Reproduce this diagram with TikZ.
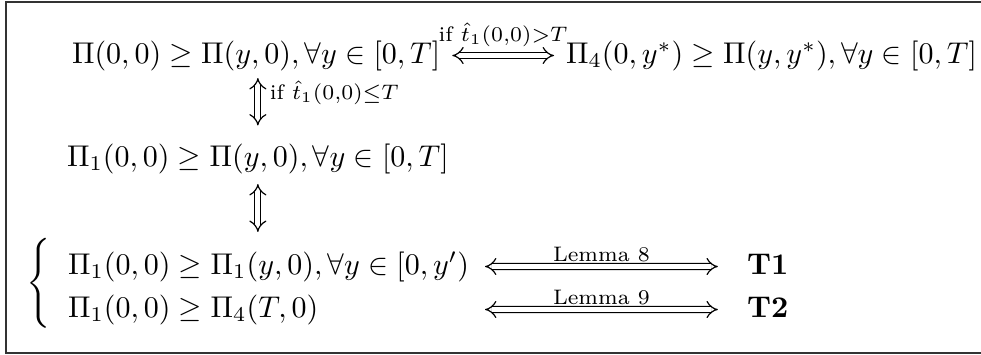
\documentclass[tikz,border=0pt]{standalone}
\usepackage{amsmath,amssymb}
\usetikzlibrary{arrows.meta}
\begin{document}
\begin{tikzpicture}[x=0.33333pt,y=-0.33333pt,
  txt/.style={inner sep=0pt, outer sep=0pt},
  lbl/.style={inner sep=0pt, outer sep=0pt},
  lemlbl/.style={inner sep=0pt, outer sep=0pt, font=\scriptsize},
  dbl/.style={double, double distance=1.6pt, line width=0.4pt, {Implies}-{Implies}},
  frame/.style={line width=0.7pt, draw=black!80}]
\useasboundingbox (0,0) rectangle (981,354);
\draw[frame] (981,2) -- (6,2) -- (6,353) -- (981,353);

\node[txt, anchor=base west] (r1l) at (72,63) {$\Pi(0,0) \ge \Pi(y,0), \forall y \in [0,T]$};
\node[txt, anchor=base west] (r1r) at (566,63) {$\Pi_4(0,y^*) \ge \Pi(y,y^*), \forall y \in [0,T]$};
\node[txt, anchor=base west] (r2) at (67,166) {$\Pi_1(0,0) \ge \Pi(y,0), \forall y \in [0,T]$};
\node[txt, anchor=base west] (r3a) at (68,274) {$\Pi_1(0,0) \ge \Pi_1(y,0), \forall y \in [0,y')$};
\node[txt, anchor=base west] (r3b) at (68,317) {$\Pi_1(0,0) \ge \Pi_4(T,0)$};
\node[txt, anchor=east] (brace) at (54,286) {$\left\{\vrule height 14pt depth 14pt width 0pt\right.$};
\node[txt, anchor=base west] (t1) at (747,274) {\textbf{T1}};
\node[txt, anchor=base west] (t2) at (747,317) {\textbf{T2}};

\coordinate (l8) at (485,266.5);
\coordinate (l9) at (485,309.5);

% top horizontal arrow
\draw[dbl] ([xshift=4pt,yshift=2.5pt]r1l.base east) -- node[lbl, above=3pt] {$\scriptstyle\text{if }\hat t_1(0,0)>T$} ([xshift=-4pt,yshift=2.5pt]r1r.base west);
% vertical arrows
\draw[dbl, shorten <=2.5pt, shorten >=6pt] (r1l.south -| r2.north) -- node[lbl, anchor=west, pos=0.3, xshift=4pt] {$\scriptstyle\text{if }\hat t_1(0,0)\le T$} (r2.north);
\draw[dbl, shorten <=3.5pt, shorten >=6.5pt] (r2.south) -- (r2.south |- r3a.north);
% lemma arrows
\draw[dbl] (l8) -- node[lemlbl, above=1.5pt] {Lemma 8} ([xshift=-9.7pt,yshift=2.5pt]t1.base west);
\draw[dbl] (l9) -- node[lemlbl, above=1.5pt] {Lemma 9} ([xshift=-9.7pt,yshift=2.5pt]t2.base west);
\end{tikzpicture}
\end{document}
